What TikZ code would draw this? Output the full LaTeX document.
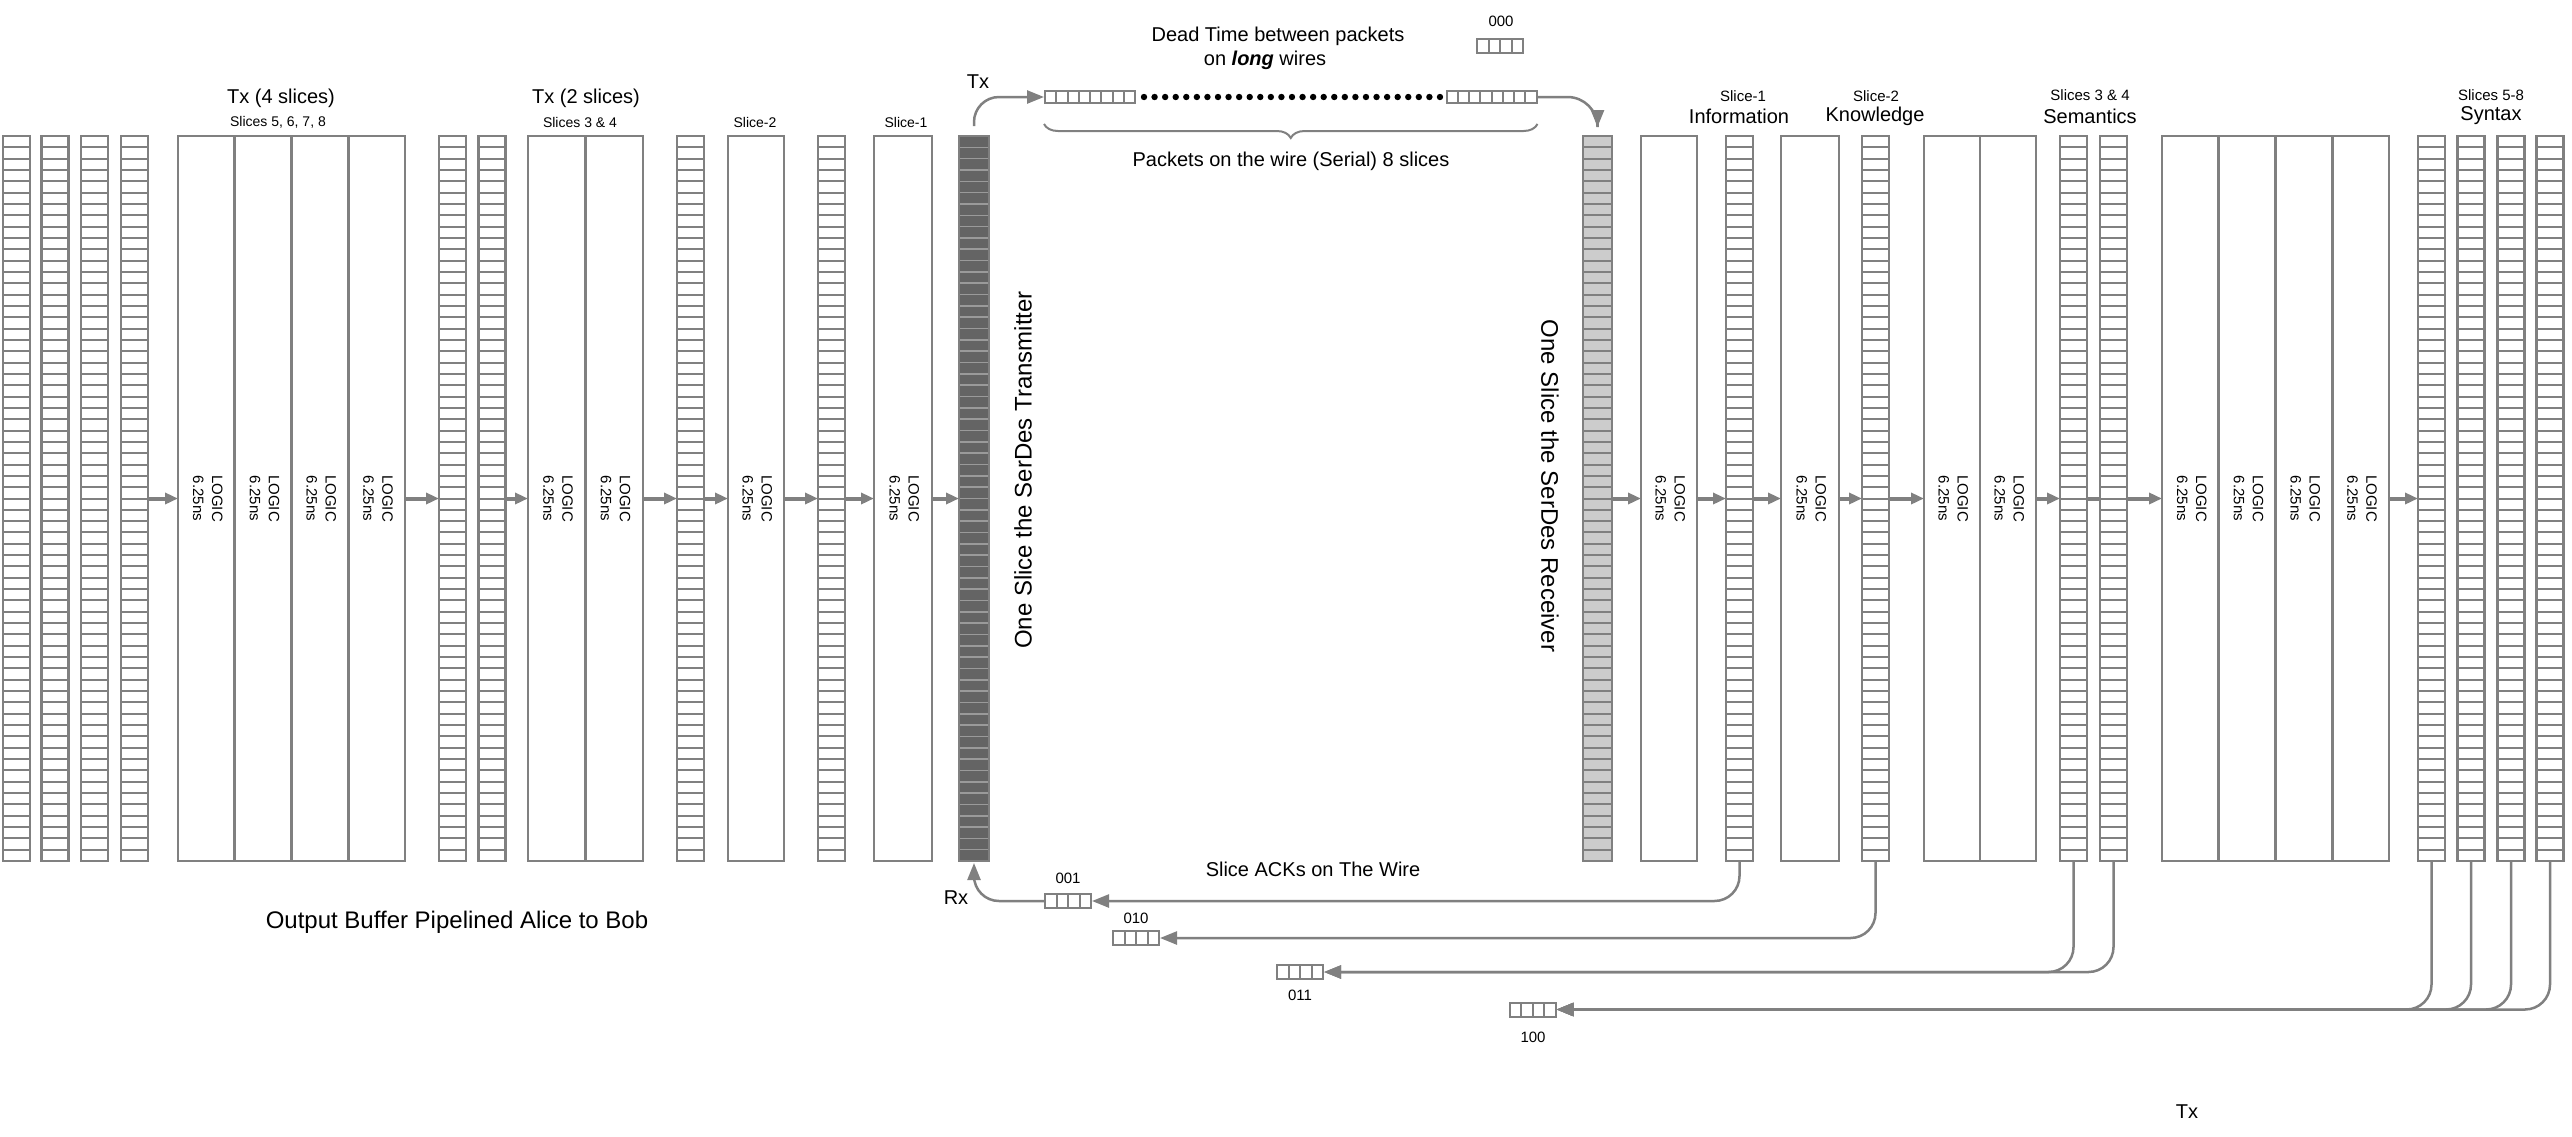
\documentclass[tikz,border=0pt]{standalone}
\usepackage{fontspec}
\setmainfont{Liberation Sans}
\usetikzlibrary{arrows.meta,calc,decorations.pathreplacing}
\definecolor{gc}{HTML}{808080}
\definecolor{darkser}{HTML}{646464}
\definecolor{lightser}{HTML}{CCCCCC}
\definecolor{serline}{HTML}{9A9A9A}
\newcommand\myhlines[3]{\foreach \i in {1,...,#1}{\draw[#2,line width=#3] ($(path picture bounding box.north west)!{\i/(#1+1)}!(path picture bounding box.south west)$) -- ($(path picture bounding box.north east)!{\i/(#1+1)}!(path picture bounding box.south east)$);}}
\newcommand\myvlines[3]{\foreach \i in {1,...,#1}{\draw[#2,line width=#3] ($(path picture bounding box.north west)!{\i/(#1+1)}!(path picture bounding box.north east)$) -- ($(path picture bounding box.south west)!{\i/(#1+1)}!(path picture bounding box.south east)$);}}
\newcommand\lgtxt{\rotatebox{-90}{\begin{tabular}{@{}c@{}}LOGIC\\6.25ns\end{tabular}}}
\tikzset{
  base/.style={draw=gc, line width=2.6pt, inner sep=0pt, outer sep=0pt},
  reg/.style={base, minimum width=27pt, minimum height=725pt, path picture={\myhlines{63}{gc}{2pt}}},
  txser/.style={base, fill=darkser, minimum width=30pt, minimum height=725pt, path picture={\myhlines{63}{serline}{1.6pt}}},
  rxser/.style={base, fill=lightser, minimum width=29pt, minimum height=725pt, path picture={\myhlines{63}{gc}{2pt}}},
  logic/.style={base, minimum width=#1, minimum height=725pt, font=\fontsize{15}{19}\selectfont},
  ack/.style={draw=gc, line width=2pt, inner sep=0pt, minimum width=46pt, minimum height=14pt, path picture={\myvlines{3}{gc}{2pt}}},
  pkt/.style={draw=gc, line width=2pt, inner sep=0pt, minimum width=90pt, minimum height=12pt, path picture={\myvlines{7}{gc}{2pt}}},
  flow/.style={draw=gc, line width=4pt, -{Triangle[length=13pt,width=11pt]}},
  link/.style={draw=gc, line width=4pt},
  wire/.style={draw=gc, line width=2.5pt, rounded corners=25pt, -{Triangle[length=17pt,width=13pt]}},
  t14/.style={font=\fontsize{14}{17}\selectfont, inner sep=0pt},
  t15/.style={font=\fontsize{15}{18}\selectfont, inner sep=0pt},
  t20/.style={font=\fontsize{20}{24}\selectfont, inner sep=0pt},
  t24/.style={font=\fontsize{24}{29}\selectfont, inner sep=0pt},
}
\begin{document}
\begin{tikzpicture}[x=1pt,y=-1pt]
\fill[white] (0,0) rectangle (2572,1136);
\useasboundingbox (0,0) rectangle (2572,1136);
\def\ym{498.5}
% ---- transmit side ----
\node[reg] (r1) at (16.5,\ym) {};
\node[reg] (r2) at (55,\ym) {};
\node[reg] (r3) at (94.5,\ym) {};
\node[reg] (r4) at (134.5,\ym) {};
\node[logic=56.75pt] (l4a) at (206.4,\ym) {\lgtxt};
\node[logic=56.75pt] (l4b) at (263.1,\ym) {\lgtxt};
\node[logic=56.75pt] (l4c) at (319.9,\ym) {\lgtxt};
\node[logic=56.75pt] (l4d) at (376.6,\ym) {\lgtxt};
\node[reg] (r5) at (452.5,\ym) {};
\node[reg] (r6) at (492,\ym) {};
\node[logic=57.5pt] (l2a) at (556.75,\ym) {\lgtxt};
\node[logic=57.5pt] (l2b) at (614.25,\ym) {\lgtxt};
\node[reg] (r7) at (690.5,\ym) {};
\node[logic=56pt] (s2) at (756,\ym) {\lgtxt};
\node[reg] (r8) at (831.5,\ym) {};
\node[logic=58pt] (s1) at (903,\ym) {\lgtxt};
\node[txser] (txs) at (974,\ym) {};
% ---- receive side ----
\node[rxser] (rxs) at (1597.5,\ym) {};
\node[logic=56pt] (i1) at (1669,\ym) {\lgtxt};
\node[reg] (r9) at (1739.5,\ym) {};
\node[logic=58pt] (k2) at (1810,\ym) {\lgtxt};
\node[reg] (r10) at (1875.5,\ym) {};
\node[logic=56pt] (m1) at (1952,\ym) {\lgtxt};
\node[logic=56pt] (m2) at (2008,\ym) {\lgtxt};
\node[reg] (r11) at (2073.5,\ym) {};
\node[reg] (r12) at (2113.5,\ym) {};
\node[logic=56.75pt] (y1) at (2190.4,\ym) {\lgtxt};
\node[logic=56.75pt] (y2) at (2247.1,\ym) {\lgtxt};
\node[logic=56.75pt] (y3) at (2303.9,\ym) {\lgtxt};
\node[logic=56.75pt] (y4) at (2360.6,\ym) {\lgtxt};
\node[reg] (r13) at (2431.5,\ym) {};
\node[reg] (r14) at (2471,\ym) {};
\node[reg] (r15) at (2511,\ym) {};
\node[reg] (r16) at (2550,\ym) {};
% ---- pipeline arrows ----
\draw[flow] (r4.east) -- (l4a.west);
\draw[flow] (l4d.east) -- (r5.west);
\draw[flow] (r6.east) -- (l2a.west);
\draw[flow] (l2b.east) -- (r7.west);
\draw[flow] (r7.east) -- (s2.west);
\draw[flow] (s2.east) -- (r8.west);
\draw[flow] (r8.east) -- (s1.west);
\draw[flow] (s1.east) -- (txs.west);
\draw[flow] (rxs.east) -- (i1.west);
\draw[flow] (i1.east) -- (r9.west);
\draw[flow] (r9.east) -- (k2.west);
\draw[flow] (k2.east) -- (r10.west);
\draw[flow] (r10.east) -- (m1.west);
\draw[flow] (m2.east) -- (r11.west);
\draw[link] (r11.east) -- (r12.west);
\draw[flow] (r12.east) -- (y1.west);
\draw[flow] (y4.east) -- (r13.west);
% ---- headings ----
\node[t20] (h4) at (281,98) {Tx (4 slices)};
\node[t14] (h4s) at (278,122) {Slices 5, 6, 7, 8};
\node[t20] (h2) at (586,98) {Tx (2 slices)};
\node[t14] (h2s) at (580,122) {Slices 3 \& 4};
\node[t14] (hs2) at (755,122) {Slice-2};
\node[t14] (hs1) at (906,122) {Slice-1};
\node[t15] (rs1) at (1743,96) {Slice-1};
\node[t20] (rinf) at (1739,116) {Information};
\node[t15] (rs2) at (1876,96) {Slice-2};
\node[t20] (rkn) at (1875,116) {Knowledge};
\node[t15] (rs34) at (2090,95) {Slices 3 \& 4};
\node[t20] (rsem) at (2090,116) {Semantics};
\node[t15] (rs58) at (2491,95) {Slices 5-8};
\node[t20] (rsyn) at (2491,116) {Syntax};
\node[t24, rotate=90] (txt) at (1023,470) {One Slice the SerDes Transmitter};
\node[t24, rotate=-90] (rxt) at (1550,486) {One Slice the SerDes Receiver};
% ---- wire ----
\node[t20] (txl) at (978,82) {Tx};
\node[t20] (dead1) at (1278,36) {Dead Time between packets};
\node[t20] (dead2) at (1265,60) {on \textbf{\textit{long}} wires};
\node[t15] (l000) at (1501,21) {000};
\node[ack] (a0) at (1500,46) {};
\node[pkt] (p1) at (1090,97) {};
\node[pkt] (p2) at (1491.5,97) {};
\foreach \i in {0,...,28} \fill (1144+\i*10.57,97) circle (3.2pt);
\draw[gc, line width=2pt, decorate, decoration={brace, amplitude=14pt, mirror}] ([yshift=-20pt]p1.south west) -- ([yshift=-20pt]p2.south east);
\node[t20] (pw) at (1291,161) {Packets on the wire (Serial) 8 slices};
\draw[wire, shorten <=10pt] (txs.north) |- (p1.west);
\draw[wire, rounded corners=30pt, shorten >=9pt] (p2.east) -| (rxs.north);
% ---- ACKs ----
\node[t20] (sack) at (1313,869) {Slice ACKs on The Wire};
\node[t20] (rxl) at (956,898) {Rx};
\node[ack] (a1) at (1068,901) {};
\node[ack] (a2) at (1136,938) {};
\node[ack] (a3) at (1300,972) {};
\node[ack] (a4) at (1532.5,1009.5) {};
\node[t15] (l001) at (1068,878) {001};
\node[t15] (l010) at (1136,918) {010};
\node[t15] (l011) at (1300,995) {011};
\node[t15] (l100) at (1533,1037) {100};
\draw[wire, shorten >=2pt] (a1.west) -| (txs.south);
\draw[wire] (r9.south) |- (a1.east);
\draw[wire] (r10.south) |- (a2.east);
\draw[wire] (r11.south) |- (a3.east);
\draw[wire] (r12.south) |- (a3.east);
\draw[wire] (r13.south) |- (a4.east);
\draw[wire] (r14.south) |- (a4.east);
\draw[wire] (r15.south) |- (a4.east);
\draw[wire] (r16.south) |- (a4.east);
% ---- footer ----
\node[t24] (obuf) at (457,922) {Output Buffer Pipelined Alice to Bob};
\node[t20] (txb) at (2187,1112) {Tx};
\end{tikzpicture}
\end{document}
